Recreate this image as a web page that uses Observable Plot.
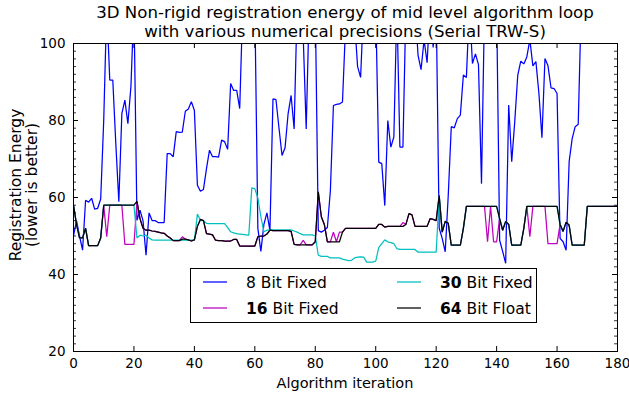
<!DOCTYPE html>
<html><head><meta charset="utf-8">
<script src="https://cdn.jsdelivr.net/npm/d3@7"></script>
<script src="https://cdn.jsdelivr.net/npm/@observablehq/plot@0.6"></script>
<style>body{margin:0;background:#fff;} svg{font-family:"DejaVu Sans",sans-serif;}</style>
</head><body><div id="chart"></div>
<script>
// iteration index 0..180
const iterations = d3.range(0, 181);

const bit8 = [50,54,50,46.3,59.3,58.8,59.8,57,57.2,59.6,80,110,90.5,90.5,74,58.9,81.8,85.3,79.2,88.8,
110,54.1,56.7,54,45,56,54,54,53.5,53.5,53.5,71.4,71.4,70.6,77.1,76.9,77,82.4,83,84.9,
82.6,63.2,61.6,62.1,67.5,72.3,70.6,70.6,70.5,74.9,74.5,72.5,89.6,87.8,87.8,83.1,110,110,110,110,
110,52,46,53,56,51.4,85.6,85.4,78,70.9,72.9,81.7,86.5,77.8,110,110,102,77.8,110,110,
110,51.4,51,51.5,52.2,61.8,83.9,84.2,84.3,84.8,104,110,110,106,94,91.2,110,110,110,110,
110,69.2,68.8,57.9,80,73.1,75.7,110,73.1,73.1,110,110,110,110,97,93.2,101,95,110,99,
110,52,49.4,45.9,60.6,78.4,78.1,80.5,81.4,91.8,91.2,110,94.8,97.3,94.5,63.6,110,110,110,110,
110,48.9,46,42.9,84,69.3,79.7,91.8,95.4,94.7,96.5,101,94.2,95.3,87,75.5,96.1,94.2,88.5,88.3,
87,49.4,48.5,46.3,69.3,75.3,78.4,79,110,120,120,120,120,120,120,120,120,120,120,120,120];

const bit16 = [58,53,49.5,49.5,52,47.5,47.5,47.5,47.5,49.5,58,49.8,58,58,58,58,58,47.8,47.8,47.8,
47.8,59,54.5,52,51.5,51.5,51.3,51.2,51,50.8,50.7,50,49.5,48.8,48.8,48.8,49.8,49.2,49,48.7,
49,52.5,54.3,54,50.6,50.5,50.3,48.9,48.8,48.8,48.7,48.7,48.7,49.1,49.1,47.4,47.4,47.4,47.4,47.4,
47.4,49.8,50,50,50.5,51.5,51.4,51.4,51.4,51.4,51.4,51.4,51.2,47.8,47.7,47.7,48.9,47.7,47.7,47.7,
48.5,61.5,55,53,48.5,48.5,51,48.5,51,51,52,52,52,52,52,52,52,52,52,52,
52,53,53,52.3,52.5,52.5,52.5,52.5,52.5,53.5,53,55.8,55.5,52.5,52.5,52.5,52.5,52.5,54.5,54.3,
54,60.5,51,53.8,53.3,47.6,47.6,47.6,47.6,52,57.7,57.7,57.7,57.7,57.7,57.7,57.7,48.5,57.7,48.5,
48.5,54.5,51.5,53.8,53,47.6,47.6,47.6,47.6,52,57.7,49.8,57.7,57.7,57.7,57.7,57.7,48,48,48,
48,53,51.2,53.6,52.8,47.6,47.6,47.6,47.6,47.6,57.7,57.7,57.7,57.7,57.7,57.7,57.7,57.7,57.7,57.7,57.7];

const bit30 = [58,53,49.5,49.5,52,47.5,47.5,47.5,47.5,49.5,58,58,58,58,58,58,58,58,58,58,
58,49.5,50.2,50,50.2,49.5,49,48.9,48.9,48.9,48.9,48.9,48.9,48.9,48.9,48.9,48.9,48.9,48.9,48.9,
48.9,55.7,54,54,53.3,53.2,53.2,53.2,53.2,53.2,53.2,52.2,51.1,50.8,50.6,50.5,50.4,50.3,50.2,62.5,
62.3,59.8,55,51.1,51.5,51.6,51.6,51.6,51.6,51.6,51.6,51.6,51.6,51.3,51,50.6,50.3,50.3,50.3,50.3,
50,45,44.7,44.7,44.7,44.3,44.3,44.3,44.3,44,43.8,43.6,43.7,44.3,44.5,44.6,44.5,43.2,43.2,43.2,
43.5,47,48,49,48.5,48.3,48,46.7,46.5,46.5,46.5,46.5,46.5,46.5,45.8,45.8,45.8,45.8,45.8,45.8,
45.8,60.5,51,53.8,53.3,47.6,47.6,47.6,47.6,52,57.7,57.7,57.7,57.7,57.7,57.7,57.7,57.7,57.7,57.7,
57.7,54.5,51.5,53.8,53,47.6,47.6,47.6,47.6,52,57.7,57.7,57.7,57.7,57.7,57.7,57.7,57.7,57.7,57.7,
57.7,53,51.2,53.6,52.8,47.6,47.6,47.6,47.6,47.6,57.7,57.7,57.7,57.7,57.7,57.7,57.7,57.7,57.7,57.7,57.7];

const bit64 = [58,53,49.5,49.5,52,47.5,47.5,47.5,47.5,49.5,58,58,58,58,58,58,58,58,58,58,
58,59,54.5,52,51.5,51.5,51.3,51.2,51,50.8,50.7,50,49.5,48.8,48.8,48.8,49.2,49.2,49,48.7,
49,52.5,54.3,54,50.6,50.5,50.3,48.9,48.8,48.8,48.7,48.7,48.7,49.1,49.1,47.4,47.4,47.4,47.4,47.4,
47.4,49.8,50,50,50.5,51.5,51.4,51.4,51.4,51.4,51.4,51.4,51.2,47.8,47.7,47.7,47.7,47.7,47.7,47.7,
48.5,61.5,55,53,48.5,48.5,48.5,48.5,48.5,51,52,52,52,52,52,52,52,52,52,52,
52,53,53,52.3,52.5,52.5,52.5,52.5,52.5,52.5,53,55.8,55.5,52.5,52.5,52.5,52.5,52.5,54.5,54.3,
54,60.5,51,53.8,53.3,47.6,47.6,47.6,47.6,52,57.7,57.7,57.7,57.7,57.7,57.7,57.7,57.7,57.7,57.7,
57.7,54.5,51.5,53.8,53,47.6,47.6,47.6,47.6,52,57.7,57.7,57.7,57.7,57.7,57.7,57.7,57.7,57.7,57.7,
57.7,53,51.2,53.6,52.8,47.6,47.6,47.6,47.6,47.6,57.7,57.7,57.7,57.7,57.7,57.7,57.7,57.7,57.7,57.7,57.7];

const seriesNames = ["8 Bit Fixed", "16 Bit Fixed", "30 Bit Fixed", "64 Bit Float"];
const seriesNums = ["8", "16", "30", "64"];
const seriesColors = ["#0000ff", "#bf00bf", "#00bfbf", "#000000"];
const seriesValues = [bit8, bit16, bit30, bit64];

const xTicks = [0, 20, 40, 60, 80, 100, 120, 140, 160, 180];
const yTicks = [20, 40, 60, 80, 100];
const yMinor = d3.range(20, 101, 2);

const titleLines = ["3D Non-rigid registration energy of mid level algorithm loop",
                    "with various numerical precisions (Serial TRW-S)"];
const yLabelLines = ["Registration Energy", "(lower is better)"];
const xLabel = "Algorithm iteration";

const W = 629, H = 394;
const mL = 73, mR = 12, mT = 43, mB = 43;
const pW = W - mL - mR, pH = H - mT - mB;

const tables = seriesValues.map((vals, si) => iterations.map((it, i) => ({x: it, y: vals[i], s: seriesNames[si]})));

const chart = Plot.plot({
  width: W, height: H,
  marginLeft: mL, marginRight: mR, marginTop: mT, marginBottom: mB,
  x: {domain: [0, 180]},
  y: {domain: [20, 100]},
  style: {fontFamily: "DejaVu Sans", fontSize: "13.5px", background: "white", color: "black", overflow: "visible"},
  marks: [
    ...tables.map((t, si) => Plot.line(t, {x: "x", y: "y", stroke: seriesColors[si], strokeWidth: 1.25, clip: true, strokeLinejoin: "miter", strokeLinecap: "butt"})),
    Plot.tickX(xTicks, {x: d => d, insetTop: pH - 5, stroke: "black"}),
    Plot.tickX(xTicks, {x: d => d, insetBottom: pH - 5, stroke: "black"}),
    Plot.tickY(yTicks, {y: d => d, insetRight: pW - 5, stroke: "black"}),
    Plot.tickY(yTicks, {y: d => d, insetLeft: pW - 5, stroke: "black"}),
    Plot.tickY(yMinor, {y: d => d, insetRight: pW - 3, stroke: "black", strokeWidth: 0.8}),
    Plot.tickY(yMinor, {y: d => d, insetLeft: pW - 3, stroke: "black", strokeWidth: 0.8}),
    Plot.frame({stroke: "black", strokeWidth: 1}),
    Plot.axisX({ticks: xTicks, tickSize: 0, tickPadding: 7, label: null, tickFormat: d => String(d)}),
    Plot.axisY({ticks: yTicks, tickSize: 0, tickPadding: 8, label: null, tickFormat: d => String(d)})
  ]
});
document.getElementById("chart").appendChild(chart);

const xs = chart.scale("x"), ys = chart.scale("y");
const cx = (xs.apply(0) + xs.apply(180)) / 2;
const cy = (ys.apply(20) + ys.apply(100)) / 2;
const svg = d3.select(chart);

titleLines.forEach((t, i) => {
  svg.append("text").attr("x", cx).attr("y", 18 + i * 19).attr("text-anchor", "middle")
    .attr("font-size", 16.6).attr("fill", "black").text(t);
});
yLabelLines.forEach((t, i) => {
  svg.append("text").attr("transform", `translate(${21 + i * 16},${cy - 12}) rotate(-90)`)
    .attr("text-anchor", "middle").attr("font-size", 15.5).attr("fill", "black").text(t);
});
svg.append("text").attr("x", cx).attr("y", 388).attr("text-anchor", "middle")
  .attr("font-size", 14.5).attr("fill", "black").text(xLabel);

// legend
const lg = svg.append("g").attr("text-anchor", "start");
lg.append("rect").attr("x", 190.5).attr("y", 268.5).attr("width", 346).attr("height", 54)
  .attr("fill", "white").attr("stroke", "black").attr("stroke-width", 1);
seriesNames.forEach((name, i) => {
  const col = Math.floor(i / 2), row = i % 2;
  const lx = 203 + col * 194, ly = 282 + row * 26;
  lg.append("line").attr("x1", lx).attr("x2", lx + 24).attr("y1", ly).attr("y2", ly)
    .attr("stroke", seriesColors[i]).attr("stroke-width", 1.25);
  const tx = lg.append("text").attr("x", lx + 43).attr("y", ly + 5.5).attr("text-anchor", "start")
    .attr("font-size", 15.5).attr("fill", "black");
  const rest = name.slice(seriesNums[i].length);
  tx.append("tspan").attr("font-weight", i === 0 ? "normal" : "bold").text(seriesNums[i]);
  tx.append("tspan").text(rest);
});
</script>
</body></html>
